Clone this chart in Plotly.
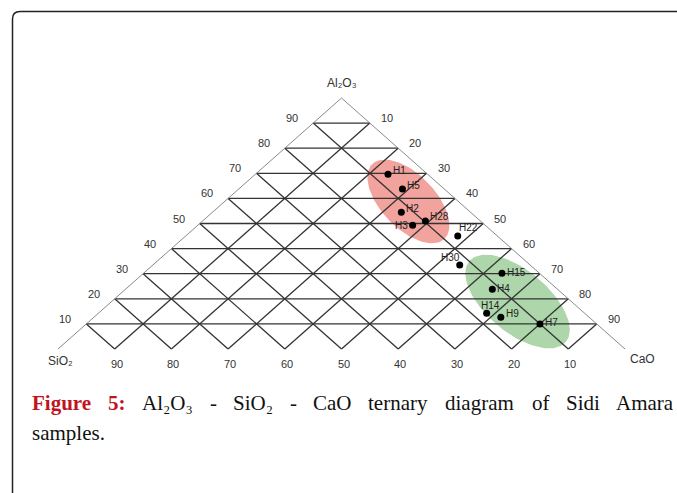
import numpy as np
import plotly.graph_objects as go

W, H = 677, 493

# ---------------- data (wt %) ----------------
samples = ["H1", "H5", "H2", "H28", "H3", "H22", "H30", "H15", "H4", "H14", "H9", "H7"]
al2o3 = [69.6, 63.7, 54.5, 51.0, 49.3, 45.0, 33.5, 30.2, 23.8, 14.2, 12.6, 10.0]
cao   = [23.4, 28.9, 33.3, 39.3, 37.9, 48.0, 54.1, 63.2, 64.7, 68.5, 71.8, 80.0]
sio2  = [7.0, 7.4, 12.2, 9.7, 12.8, 7.0, 12.4, 6.6, 11.5, 17.3, 15.6, 10.0]
label_pos = ["right-up", "right-up", "right-up", "right-up", "left", "up-right",
             "up-left", "right", "right", "up", "right-up", "right"]

tick_vals = [10, 20, 30, 40, 50, 60, 70, 80, 90]
tick_text = ["10", "20", "30", "40", "50", "60", "70", "80", "90"]
corner_names = ["Al₂O₃", "SiO₂", "CaO"]

# group ellipses: centre composition (Al2O3, CaO, SiO2) and semi-axis vectors (cartesian % units)
groups = {
    "red":   dict(center=(58.8, 32.4, 8.8), u=(6.37, -14.9), v=(3.42, 7.48), color="#F3A39E"),
    "green": dict(center=(18.9, 71.6, 9.5), u=(8.51, -16.1), v=(3.51, 9.45), color="#AED6AB"),
}

# ---------------- frame of the triangle on the page (pixels) ----------------
X0, X1, YB, YT = 58, 625, 349, 98
sx = (X1 - X0) / 100.0
sy = (YB - YT) / 100.0
x_range = [-X0 / sx, (W - X0) / sx]
y_range = [-(H - YB) / sy, YB / sy]


def tern(a, c, s):
    """ternary composition -> cartesian (x along base toward CaO, y toward Al2O3)"""
    a = np.asarray(a, float); c = np.asarray(c, float); s = np.asarray(s, float)
    tot = a + c + s
    a, c = a / tot * 100, c / tot * 100
    return c + a / 2.0, a


def px2paper(px, py):
    return px / W, 1 - py / H


fig = go.Figure()

# ellipses (under the grid)
t = np.linspace(0, 2 * np.pi, 120)
for g in groups.values():
    cx, cy = tern(*g["center"])
    ex = cx + np.cos(t) * g["u"][0] + np.sin(t) * g["v"][0]
    ey = cy + np.cos(t) * g["u"][1] + np.sin(t) * g["v"][1]
    fig.add_trace(go.Scatter(x=ex, y=ey, mode="lines", fill="toself", fillcolor=g["color"],
                             line=dict(width=0, color=g["color"]), hoverinfo="skip", showlegend=False))

# grid lines
gx, gy = [], []
for v in tick_vals:
    x1, y1 = tern(v, 0, 100 - v); x2, y2 = tern(v, 100 - v, 0)          # constant Al2O3
    gx += [float(x1), float(x2), None]; gy += [float(y1), float(y2), None]
    x1, y1 = tern(0, v, 100 - v); x2, y2 = tern(100 - v, v, 0)          # constant CaO
    gx += [float(x1), float(x2), None]; gy += [float(y1), float(y2), None]
    x1, y1 = tern(0, 100 - v, v); x2, y2 = tern(100 - v, 0, v)          # constant SiO2
    gx += [float(x1), float(x2), None]; gy += [float(y1), float(y2), None]
fig.add_trace(go.Scatter(x=gx, y=gy, mode="lines", line=dict(color="#333333", width=1.3),
                         hoverinfo="skip", showlegend=False))

# outer edges (left and right sides only)
ex, ey = [], []
for (a1, c1, s1), (a2, c2, s2) in [((0, 0, 100), (100, 0, 0)), ((100, 0, 0), (0, 100, 0))]:
    p1 = tern(a1, c1, s1); p2 = tern(a2, c2, s2)
    ex += [float(p1[0]), float(p2[0]), None]; ey += [float(p1[1]), float(p2[1]), None]
fig.add_trace(go.Scatter(x=ex, y=ey, mode="lines", line=dict(color="#8a8a8a", width=1),
                         hoverinfo="skip", showlegend=False))

# samples
px_, py_ = tern(al2o3, cao, sio2)
fig.add_trace(go.Scatter(x=px_, y=py_, mode="markers", marker=dict(color="black", size=7),
                         hoverinfo="skip", showlegend=False))

annos = []
lab_font = dict(family="Liberation Sans, Arial", size=10, color="#222")
pos_map = {
    "right-up": dict(xanchor="left", yanchor="middle", xshift=3, yshift=4),
    "right":    dict(xanchor="left", yanchor="middle", xshift=3, yshift=1),
    "left":     dict(xanchor="right", yanchor="middle", xshift=-3, yshift=0),
    "up-right": dict(xanchor="left", yanchor="bottom", xshift=-1, yshift=1),
    "up-left":  dict(xanchor="right", yanchor="bottom", xshift=2, yshift=0),
    "up":       dict(xanchor="center", yanchor="bottom", xshift=4, yshift=0),
}
for name, x, y, p in zip(samples, px_, py_, label_pos):
    annos.append(dict(x=float(x), y=float(y), text=name, showarrow=False, font=lab_font, **pos_map[p]))

tick_font = dict(family="Liberation Sans, Arial", size=11, color="#333")
for v, lab in zip(tick_vals, tick_text):
    x, y = tern(v, 0, 100 - v)          # Al2O3 ticks on left edge
    annos.append(dict(x=float(x), y=float(y), text=lab, showarrow=False, xshift=-21, yshift=5, font=tick_font))
    x, y = tern(100 - v, v, 0)          # CaO ticks on right edge
    annos.append(dict(x=float(x), y=float(y), text=lab, showarrow=False, xshift=17, yshift=5, font=tick_font))
    x, y = tern(0, 100 - v, v)          # SiO2 ticks on base
    annos.append(dict(x=float(x), y=float(y), text=lab, showarrow=False, xshift=2, yshift=-15, font=tick_font))

corner_font = dict(family="Liberation Sans, Arial", size=12, color="#333")
x, y = tern(100, 0, 0)
annos.append(dict(x=float(x), y=float(y), text=corner_names[0], showarrow=False, yshift=15, font=corner_font))
x, y = tern(0, 0, 100)
annos.append(dict(x=float(x), y=float(y), text=corner_names[1], showarrow=False, xshift=2, yshift=-12, font=corner_font))
x, y = tern(0, 100, 0)
annos.append(dict(x=float(x), y=float(y), text=corner_names[2], showarrow=False, xshift=17, yshift=-10, font=corner_font))

# caption (justified line rebuilt word by word)
cap_font = dict(family="Liberation Serif, Times New Roman", size=21, color="#111")
bold_font = dict(family="Liberation Serif, Times New Roman", size=21, color="#C0141E", weight="bold")
line1_y = 403
words = [("Figure", 30, bold_font), ("5:", 106, bold_font),
         ("Al₂O₃", 140, cap_font), ("-", 208, cap_font),
         ("SiO₂", 231, cap_font), ("-", 288, cap_font), ("CaO", 311, cap_font),
         ("ternary", 366, cap_font), ("diagram", 443, cap_font), ("of", 530, cap_font),
         ("Sidi", 564, cap_font), ("Amara", 614, cap_font)]
for txt, xpx, f in words:
    xp, yp = px2paper(xpx, line1_y)
    annos.append(dict(x=xp, y=yp, xref="paper", yref="paper", xanchor="left", yanchor="middle",
                      text=txt, showarrow=False, font=f))
xp, yp = px2paper(30, 433)
annos.append(dict(x=xp, y=yp, xref="paper", yref="paper", xanchor="left", yanchor="middle",
                  text="samples.", showarrow=False, font=cap_font))

# page frame with rounded top-left corner
pts = [px2paper(12.5, H + 2), px2paper(12.5, 19), px2paper(12.5, 11.5), px2paper(20, 11.5), px2paper(W + 2, 11.5)]
path = "M {0[0]},{0[1]} L {1[0]},{1[1]} Q {2[0]},{2[1]} {3[0]},{3[1]} L {4[0]},{4[1]}".format(*pts)
shapes = [dict(type="path", xref="paper", yref="paper", path=path, line=dict(color="#222", width=1.5))]

fig.update_layout(
    width=W, height=H, margin=dict(l=0, r=0, t=0, b=0),
    paper_bgcolor="white", plot_bgcolor="white",
    xaxis=dict(range=x_range, visible=False, fixedrange=True),
    yaxis=dict(range=y_range, visible=False, fixedrange=True),
    annotations=annos, shapes=shapes, showlegend=False,
)

fig.write_html("out.html", config={"displayModeBar": False},
               post_script="document.body.style.margin='0px';")
